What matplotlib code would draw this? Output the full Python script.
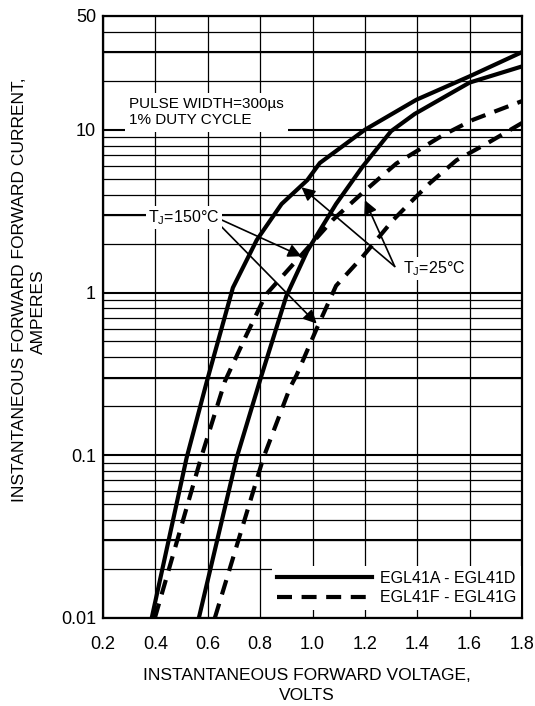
import matplotlib
matplotlib.use("Agg")
import matplotlib.pyplot as plt
from matplotlib.ticker import LogLocator, NullFormatter, FixedLocator
from matplotlib.lines import Line2D

plt.rcParams['font.family'] = ['Liberation Sans', 'DejaVu Sans']
plt.rcParams['mathtext.fontset'] = 'custom'
plt.rcParams['mathtext.rm'] = 'Liberation Sans'

# ---- data (voltage in V, current in A) ----
a150_v = [0.386, 0.519, 0.597, 0.696, 0.787, 0.882, 0.98, 1.028, 1.2, 1.397, 1.60, 1.80]
a150_i = [0.01, 0.096, 0.286, 1.07, 2.1, 3.5, 4.9, 6.25, 10.0, 15.3, 21.3, 30.0]

a25_v = [0.566, 0.71, 0.80, 0.90, 0.98, 1.09, 1.19, 1.30, 1.39, 1.60, 1.80]
a25_i = [0.01, 0.096, 0.29, 0.95, 1.8, 3.5, 5.9, 9.8, 12.5, 19.5, 24.5]

f150_v = [0.398, 0.574, 0.666, 0.748, 0.822, 0.94, 1.078, 1.19, 1.32, 1.50, 1.612, 1.80]
f150_i = [0.01, 0.096, 0.286, 0.55, 0.97, 1.58, 2.8, 4.08, 6.2, 9.3, 11.5, 15.0]

f25_v = [0.627, 0.812, 0.914, 0.939, 1.016, 1.09, 1.19, 1.307, 1.383, 1.448, 1.55, 1.664, 1.80]
f25_i = [0.01, 0.096, 0.26, 0.31, 0.60, 1.1, 1.65, 2.78, 3.7, 4.7, 6.5, 8.2, 11.0]

x_ticks = [0.2, 0.4, 0.6, 0.8, 1.0, 1.2, 1.4, 1.6, 1.8]
x_labels = ["0.2", "0.4", "0.6", "0.8", "1.0", "1.2", "1.4", "1.6", "1.8"]
y_ticks = [0.01, 0.1, 1, 10, 50]
y_labels = ["0.01", "0.1", "1", "10", "50"]
thick_levels = [0.03, 0.3, 3, 30]

legend_labels = ["EGL41A - EGL41D", "EGL41F - EGL41G"]

# ---- figure ----
fig = plt.figure(figsize=(5.35, 7.06), dpi=100)
ax = fig.add_axes([103/535, 1 - 618/706, (522-103)/535, (618-16)/706])
ax.set_yscale('log')
ax.set_xlim(0.2, 1.8)
ax.set_ylim(0.01, 50)

ax.set_xticks(x_ticks)
ax.set_xticklabels(x_labels)
ax.yaxis.set_major_locator(FixedLocator(y_ticks))
ax.set_yticklabels(y_labels)
ax.yaxis.set_minor_locator(LogLocator(base=10, subs=range(2, 10)))
ax.yaxis.set_minor_formatter(NullFormatter())
ax.tick_params(which='both', length=0, labelsize=13)
ax.tick_params(axis='x', pad=13)
ax.tick_params(axis='y', pad=5)

ax.set_axisbelow(True)
ax.grid(which='major', axis='y', color='black', lw=1.5)
ax.grid(which='minor', axis='y', color='black', lw=0.9)
ax.grid(which='major', axis='x', color='black', lw=0.9)
for lv in thick_levels:
    ax.axhline(lv, color='black', lw=1.5, zorder=0.5)
for s in ax.spines.values():
    s.set_linewidth(1.6)

lw = 3.0
dash = (3.6, 2.3)
ax.plot(a150_v, a150_i, color='black', lw=lw, solid_joinstyle='round', zorder=3)
ax.plot(a25_v, a25_i, color='black', lw=lw, solid_joinstyle='round', zorder=3)
ax.plot(f150_v, f150_i, color='black', lw=lw, dashes=dash, zorder=3)
ax.plot(f25_v, f25_i, color='black', lw=lw, dashes=dash, zorder=3)

# ---- annotations ----
ax.text(0.299, 12.85, "PULSE WIDTH=300\u00b5s\n1% DUTY CYCLE", fontsize=11,
        ha='left', va='center', linespacing=1.25, zorder=4,
        bbox=dict(facecolor='white', edgecolor='none', pad=3))
aprops = dict(arrowstyle='-|>', color='black', lw=1.2, mutation_scale=20,
              shrinkA=0, shrinkB=0)
ax.annotate("", xy=(0.958, 1.67), xytext=(0.647, 2.82), arrowprops=aprops, zorder=5)
ax.annotate("", xy=(1.016, 0.644), xytext=(0.647, 2.59), arrowprops=aprops, zorder=5)
ax.text(0.509, 2.9, r"T$_{\mathregular{J}}$=150" + "\u00b0C",
        fontsize=11.5, ha='center', va='center', zorder=6,
        bbox=dict(facecolor='white', edgecolor='none', pad=1.5))
ax.annotate("", xy=(0.958, 4.43), xytext=(1.314, 1.445), arrowprops=aprops, zorder=5)
ax.annotate("", xy=(1.2, 3.69), xytext=(1.314, 1.445), arrowprops=aprops, zorder=5)
ax.text(1.345, 1.41, r"T$_{\mathregular{J}}$=25" + "\u00b0C",
        fontsize=11.5, ha='left', va='center', zorder=6,
        bbox=dict(facecolor='white', edgecolor='none', pad=1.5))

handles = [Line2D([], [], color='black', lw=lw),
           Line2D([], [], color='black', lw=lw, dashes=dash)]
leg = ax.legend(handles, legend_labels, loc='lower right', bbox_to_anchor=(0.997, 0.013),
                fontsize=11.5, frameon=True, fancybox=False, framealpha=1,
                facecolor='white', edgecolor='none', handlelength=6.0,
                handletextpad=0.45, borderpad=0.3, labelspacing=0.3, borderaxespad=0)
leg.set_zorder(7)

# ---- axis titles ----
fig.text(20/535, 1 - 290/706, "INSTANTANEOUS FORWARD FORWARD CURRENT,", rotation=90,
         ha='center', va='center', fontsize=12.5)
fig.text(38/535, 1 - 312/706, "AMPERES", rotation=90, ha='center', va='center', fontsize=12.5)
fig.text(307/535, 1 - 675/706, "INSTANTANEOUS FORWARD VOLTAGE,", ha='center', va='center',
         fontsize=12.5)
fig.text(307/535, 1 - 695/706, "VOLTS", ha='center', va='center', fontsize=12.5)

fig.savefig("out.png", dpi=100)
